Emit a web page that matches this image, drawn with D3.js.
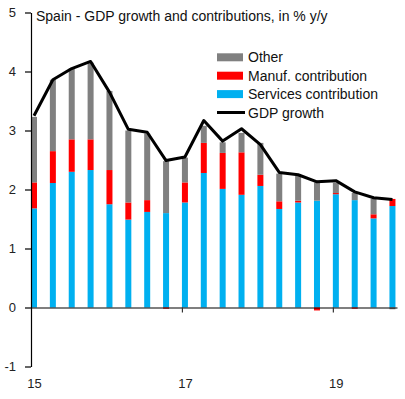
<!DOCTYPE html>
<html>
<head>
<meta charset="utf-8">
<script src="https://cdn.jsdelivr.net/npm/d3@7/dist/d3.min.js"></script>
<style>
  html, body { margin: 0; padding: 0; background: #fff; }
  svg { display: block; font-family: "Liberation Sans", Arial, sans-serif; }
</style>
</head>
<body>
<svg id="chart" width="405" height="399"></svg>
<script>
// ---- data (quarterly, 2015Q1 .. 2019Q4) ----
const quarters = ["2015Q1","2015Q2","2015Q3","2015Q4","2016Q1","2016Q2","2016Q3","2016Q4",
                  "2017Q1","2017Q2","2017Q3","2017Q4","2018Q1","2018Q2","2018Q3","2018Q4",
                  "2019Q1","2019Q2","2019Q3","2019Q4"];
const services = [1.68, 2.11, 2.30, 2.33, 1.75, 1.49, 1.62, 1.60, 1.78, 2.28,
                  2.01, 1.91, 2.06, 1.67, 1.78, 1.81, 1.92, 1.82, 1.51, 1.72];
const manuf    = [0.44, 0.54, 0.55, 0.52, 0.58, 0.29, 0.20, -0.02, 0.34, 0.51,
                  0.61, 0.72, 0.19, 0.13, 0.03, -0.05, 0.02, -0.02, 0.07, 0.12];
const other    = [1.11, 1.21, 1.20, 1.30, 1.34, 1.22, 1.13, 0.88, 0.42, 0.29,
                  0.18, 0.33, 0.54, 0.47, 0.42, 0.31, 0.17, 0.12, 0.26, -0.03];
const gdp      = [3.25, 3.86, 4.05, 4.17, 3.65, 3.02, 2.97, 2.49, 2.55, 3.17,
                  2.82, 3.03, 2.76, 2.29, 2.25, 2.13, 2.15, 1.96, 1.86, 1.83];
const yTicks = [-1, 0, 1, 2, 3, 4, 5];
const yTickLabels = ["-1", "0", "1", "2", "3", "4", "5"];
const xTickIdx = [0, 8, 16];
const xTickLabels = ["15", "17", "19"];
const title = "Spain - GDP growth and contributions, in % y/y";
const seriesNames = ["Other", "Manuf. contribution", "Services contribution", "GDP growth"];
const colors = { services: "#00B0F0", manuf: "#FF0000", other: "#808080", gdp: "#000000" };

(function () {
// ---- layout ----
const mLeft = 31, mRight = 397, mTop = 12.5, mBottom = 366.5;
const barW = 6;

const svg = d3.select("#chart");

const x = d3.scaleLinear().domain([0, 19.4]).range([mLeft, mRight]);
const y = d3.scaleLinear().domain([-1, 5]).range([mBottom, mTop]);

const rows = quarters.map((q, i) => ({ q, i, services: services[i], manuf: manuf[i], other: other[i] }));
const stack = d3.stack().keys(["services", "manuf", "other"]).offset(d3.stackOffsetDiverging);
const layers = stack(rows);

// bars
svg.append("g").selectAll("g")
  .data(layers).join("g")
  .attr("fill", d => colors[d.key])
  .selectAll("rect")
  .data(d => d).join("rect")
  .attr("x", d => x(d.data.i))
  .attr("width", barW)
  .attr("y", d => y(Math.max(d[0], d[1])))
  .attr("height", d => Math.abs(y(d[0]) - y(d[1])));

// y axis
const yAxis = d3.axisLeft(y).tickValues(yTicks).tickSize(6).tickSizeOuter(0).tickPadding(9)
  .tickFormat((d, k) => yTickLabels[k]);
const gy = svg.append("g").attr("transform", `translate(${mLeft},0)`).call(yAxis);
gy.select(".domain").attr("stroke", "#000").attr("stroke-width", 1.2);
gy.selectAll(".tick line").attr("stroke", "#000").attr("stroke-width", 1.2);
gy.selectAll(".tick text").attr("font-size", 13).attr("fill", "#222")
  .attr("font-family", "Liberation Sans, Arial, sans-serif");

// x axis (zero line with tick marks)
const xAxis = d3.axisBottom(x).tickValues(xTickIdx.slice(1)).tickSize(5).tickSizeOuter(0)
  .tickFormat(() => "");
const gx = svg.append("g").attr("transform", `translate(0,${y(0)})`).call(xAxis);
gx.select(".domain").attr("stroke", "#000").attr("stroke-width", 1.2);
gx.selectAll(".tick line").attr("stroke", "#333").attr("stroke-width", 1.2);

// x labels at the bottom
const xLab = d3.axisBottom(x).tickValues(xTickIdx).tickSize(0).tickPadding(0)
  .tickFormat((d, k) => xTickLabels[k]);
const gxl = svg.append("g").attr("transform", `translate(${barW / 2},379)`).call(xLab);
gxl.select(".domain").remove();
gxl.selectAll(".tick text").attr("font-size", 13).attr("fill", "#222")
  .attr("font-family", "Liberation Sans, Arial, sans-serif");

// GDP line
const line = d3.line().x((d, i) => x(i) + barW / 2).y(d => y(d));
svg.append("path").datum(gdp)
  .attr("d", line)
  .attr("fill", "none")
  .attr("stroke", colors.gdp)
  .attr("stroke-width", 3)
  .attr("stroke-linejoin", "round");

// title
svg.append("text").attr("x", 36).attr("y", 21)
  .attr("font-size", 14).attr("fill", "#111").text(title);

// legend
const lg = svg.append("g");
const legItems = [
  { name: seriesNames[0], type: "rect", color: colors.other },
  { name: seriesNames[1], type: "rect", color: colors.manuf },
  { name: seriesNames[2], type: "rect", color: colors.services },
  { name: seriesNames[3], type: "line", color: colors.gdp }
];
legItems.forEach((it, k) => {
  const cy = 57.3 + k * 18.4;
  if (it.type === "rect") {
    lg.append("rect").attr("x", 217).attr("y", cy - 4).attr("width", 26).attr("height", 8).attr("fill", it.color);
  } else {
    lg.append("line").attr("x1", 217).attr("x2", 245).attr("y1", cy).attr("y2", cy)
      .attr("stroke", it.color).attr("stroke-width", 3);
  }
  lg.append("text").attr("x", 248).attr("y", cy + 5).attr("font-size", 14).attr("fill", "#111").text(it.name);
});
})();
</script>
</body>
</html>
